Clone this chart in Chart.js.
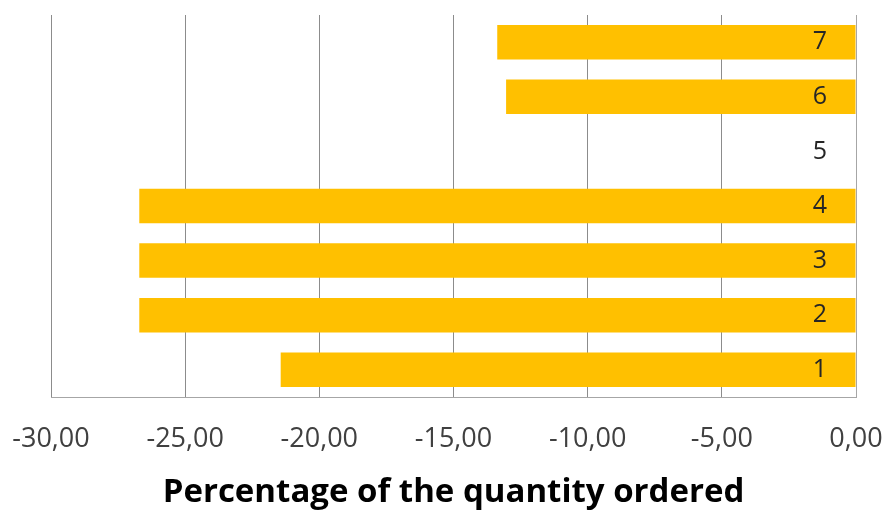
<!DOCTYPE html>
<html>
<head>
<meta charset="utf-8">
<script src="https://cdn.jsdelivr.net/npm/chart.js@4"></script>
<style>
  html, body { margin: 0; padding: 0; background: #fff; }
  #wrap { width: 887px; height: 511px; }
</style>
</head>
<body>
<div id="wrap"><canvas id="myChart"></canvas></div>
<script>
const categories = ['1', '2', '3', '4', '5', '6', '7'];
const values = [-21.44, -26.71, -26.71, -26.71, null, -13.04, -13.37];
const xTicks = [-30, -25, -20, -15, -10, -5, 0];
const axisTitle = 'Percentage of the quantity ordered';

const data = {
  labels: categories,
  datasets: [{
    data: values,
    backgroundColor: '#FFC000',
    borderWidth: 0,
    barPercentage: 0.632,
    categoryPercentage: 1
  }]
};

const config = {
  type: 'bar',
  data: data,
  options: {
    indexAxis: 'y',
    responsive: true,
    maintainAspectRatio: false,
    animation: false,
    layout: { padding: { left: 51, right: 31, top: 15, bottom: 2 } },
    plugins: {
      legend: { display: false },
      tooltip: { enabled: false }
    },
    scales: {
      x: {
        min: -30,
        max: 0,
        afterBuildTicks: (scale) => {
          scale.ticks = xTicks.map(v => ({ value: v }));
        },
        afterFit: (scale) => {
          scale.paddingLeft = 0;
          scale.paddingRight = 0;
          scale.height = 112;
        },
        grid: { color: '#8c8c8c', lineWidth: 1, drawTicks: false },
        border: { display: true, color: '#a6a6a6' },
        ticks: {
          padding: 26,
          color: '#404040',
          font: { family: 'Open Sans', size: 27 },
          callback: (v) => Number(v).toFixed(2).replace('.', ',')
        },
        title: {
          display: true,
          text: axisTitle,
          color: '#000',
          padding: { top: 0, bottom: 0 },
          font: { family: 'Open Sans', size: 33, weight: 'bold', lineHeight: 1 }
        }
      },
      y: {
        position: 'right',
        reverse: true,
        afterFit: (scale) => {
          // labels sit inside the plot, so the axis itself takes no room
          scale.width = 0;
          scale.paddingTop = 0;
          scale.paddingBottom = 0;
        },
        grid: { display: false, drawTicks: false },
        border: { display: true, color: '#a6a6a6', z: 1 },
        ticks: {
          z: 1,
          mirror: true,
          padding: -29,
          color: '#262626',
          font: { family: 'Open Sans', size: 25 }
        }
      }
    }
  }
};

const myChart = new Chart(
  document.getElementById('myChart'),
  config
);
</script>
</body>
</html>
